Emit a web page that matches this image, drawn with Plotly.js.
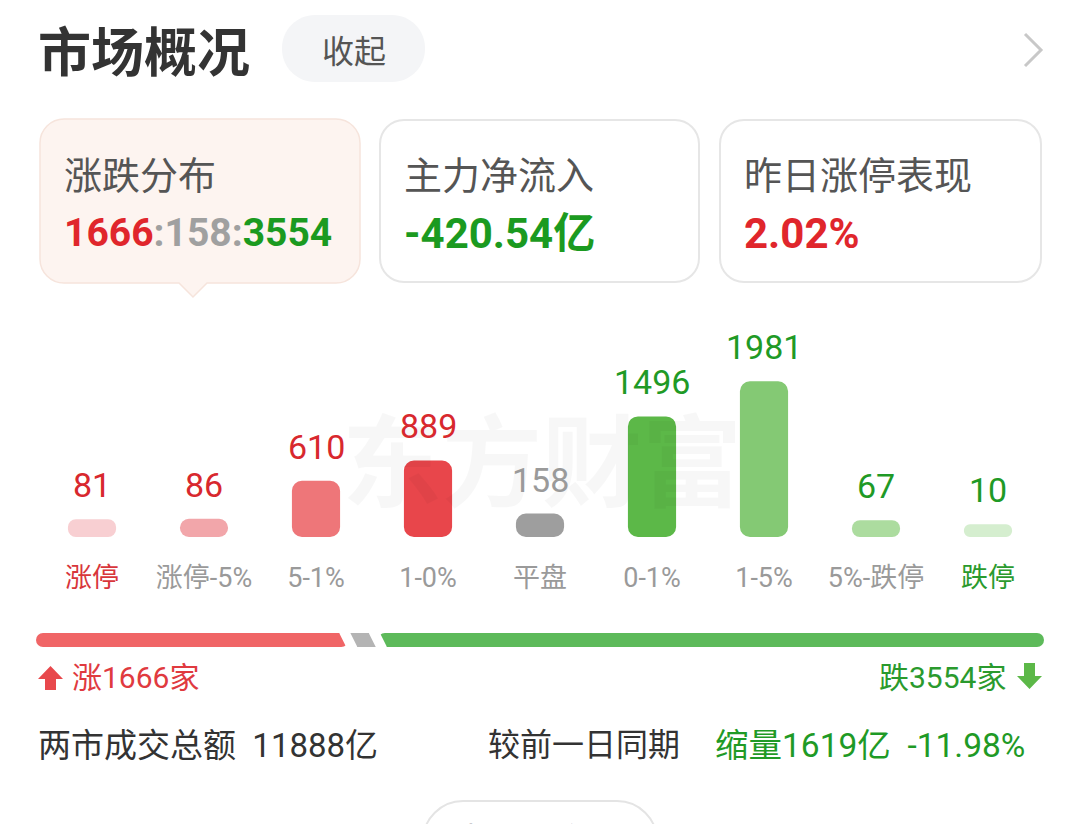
<!DOCTYPE html>
<html>
<head>
<meta charset="utf-8">
<script src="https://cdn.plot.ly/plotly-3.0.1.min.js"></script>
<style>
  html, body { margin: 0; padding: 0; background: #ffffff; }
  #chart { width: 1080px; height: 824px; }
</style>
</head>
<body>
<div id="chart"></div>
<script>
// ---------------- data ----------------
const categories = ['涨停', '涨停-5%', '5-1%', '1-0%', '平盘', '0-1%', '1-5%', '5%-跌停', '跌停'];
const counts = [81, 86, 610, 889, 158, 1496, 1981, 67, 10];
const barColors = ['#f8cfd2', '#f2a6aa', '#ee7679', '#e8464b', '#9e9e9e', '#5cb848', '#84c974', '#acdc9f', '#d5eecf'];
const valueColors = ['#d8282e', '#d8282e', '#d8282e', '#d8282e', '#9a9a9a', '#1f9a26', '#1f9a26', '#1f9a26', '#1f9a26'];
const tickColors = ['#d8363b', '#9a9a9a', '#9a9a9a', '#9a9a9a', '#9a9a9a', '#9a9a9a', '#9a9a9a', '#9a9a9a', '#2a9a2d'];
const upIdx = [0, 1, 2, 3];
const flatIdx = [4];
const downIdx = [5, 6, 7, 8];

const mainNetInflow = '-420.54';    // 亿
const limitUpPerf = '2.02';         // %
const turnover = 11888;             // 亿
const turnoverChange = 1619;        // 亿 (缩量)
const turnoverChangePct = '-11.98'; // %

// derived counts
const sumOf = idx => idx.reduce((s, i) => s + counts[i], 0);
const upCount = sumOf(upIdx);
const flatCount = sumOf(flatIdx);
const downCount = sumOf(downIdx);
const totalCount = upCount + flatCount + downCount;

// ---------------- layout helpers (pixel -> paper) ----------------
const W = 1080, H = 824;
const X = px => px / W;
const Y = py => 1 - py / H;
const K = 0.5523;
function rr(x0, y0, x1, y1, r) {
  const c = r * K;
  return 'M' + X(x0 + r) + ',' + Y(y0) +
    ' L' + X(x1 - r) + ',' + Y(y0) +
    ' C' + X(x1 - r + c) + ',' + Y(y0) + ' ' + X(x1) + ',' + Y(y0 + r - c) + ' ' + X(x1) + ',' + Y(y0 + r) +
    ' L' + X(x1) + ',' + Y(y1 - r) +
    ' C' + X(x1) + ',' + Y(y1 - r + c) + ' ' + X(x1 - r + c) + ',' + Y(y1) + ' ' + X(x1 - r) + ',' + Y(y1) +
    ' L' + X(x0 + r) + ',' + Y(y1) +
    ' C' + X(x0 + r - c) + ',' + Y(y1) + ' ' + X(x0) + ',' + Y(y1 - r + c) + ' ' + X(x0) + ',' + Y(y1 - r) +
    ' L' + X(x0) + ',' + Y(y0 + r) +
    ' C' + X(x0) + ',' + Y(y0 + r - c) + ' ' + X(x0 + r - c) + ',' + Y(y0) + ' ' + X(x0 + r) + ',' + Y(y0) + ' Z';
}
function card1Path(x0, y0, x1, y1, r, tipX, tipH, half) {
  const c = r * K;
  return 'M' + X(x0 + r) + ',' + Y(y0) +
    ' L' + X(x1 - r) + ',' + Y(y0) +
    ' C' + X(x1 - r + c) + ',' + Y(y0) + ' ' + X(x1) + ',' + Y(y0 + r - c) + ' ' + X(x1) + ',' + Y(y0 + r) +
    ' L' + X(x1) + ',' + Y(y1 - r) +
    ' C' + X(x1) + ',' + Y(y1 - r + c) + ' ' + X(x1 - r + c) + ',' + Y(y1) + ' ' + X(x1 - r) + ',' + Y(y1) +
    ' L' + X(tipX + half) + ',' + Y(y1) +
    ' L' + X(tipX) + ',' + Y(y1 + tipH) +
    ' L' + X(tipX - half) + ',' + Y(y1) +
    ' L' + X(x0 + r) + ',' + Y(y1) +
    ' C' + X(x0 + r - c) + ',' + Y(y1) + ' ' + X(x0) + ',' + Y(y1 - r + c) + ' ' + X(x0) + ',' + Y(y1 - r) +
    ' L' + X(x0) + ',' + Y(y0 + r) +
    ' C' + X(x0) + ',' + Y(y0 + r - c) + ' ' + X(x0 + r - c) + ',' + Y(y0) + ' ' + X(x0 + r) + ',' + Y(y0) + ' Z';
}
function poly(pts) {
  return 'M' + pts.map(p => X(p[0]) + ',' + Y(p[1])).join(' L') + ' Z';
}

const CJK = '"Noto Sans CJK SC", "Noto Sans", sans-serif';
const NUM = 'Roboto, "Noto Sans CJK SC", sans-serif';

const RED = '#e0262c', GREEN = '#1b9a20', GRAY = '#a0a0a0';

// ---------------- geometry constants ----------------
const plotLeft = 36, plotRight = 1044;
const baseY = 537, topY = 329;
const baseOffset = -165;     // minimum visible bar stub (axis units below zero)
const yTop = 2700;
const barY0 = 633, barY1 = 647;

// ---------------- traces ----------------
const traces = [];
traces.push({
  type: 'bar', x: categories, y: counts.map(v => v - baseOffset), base: baseOffset,
  xaxis: 'x', yaxis: 'y', width: 0.43,
  marker: { color: barColors, cornerradius: 10 },
  hoverinfo: 'skip', showlegend: false
});
// progress bar (stacked manually with explicit bases)
traces.push({
  type: 'bar', orientation: 'h', y: [0], x: [-upCount], base: [upCount],
  xaxis: 'x2', yaxis: 'y2', width: 1,
  marker: { color: '#f06566', cornerradius: 7 }, hoverinfo: 'skip', showlegend: false
});
traces.push({
  type: 'bar', orientation: 'h', y: [0], x: [flatCount], base: [upCount],
  xaxis: 'x2', yaxis: 'y2', width: 1,
  marker: { color: '#b4b4b4' }, hoverinfo: 'skip', showlegend: false
});
traces.push({
  type: 'bar', orientation: 'h', y: [0], x: [downCount], base: [upCount + flatCount],
  xaxis: 'x2', yaxis: 'y2', width: 1,
  marker: { color: '#5dba5a', cornerradius: 7 }, hoverinfo: 'skip', showlegend: false
});

// ---------------- shapes ----------------
const shapes = [];
shapes.push({ type: 'path', xref: 'paper', yref: 'paper', path: rr(282, 15, 425, 82, 33), fillcolor: '#f4f5f7', line: { width: 0 }, layer: 'below' });
shapes.push({ type: 'path', xref: 'paper', yref: 'paper',
  path: 'M' + X(1025) + ',' + Y(34) + ' L' + X(1041) + ',' + Y(50) + ' L' + X(1025) + ',' + Y(66),
  line: { color: '#c8c8c8', width: 3 } });
shapes.push({ type: 'path', xref: 'paper', yref: 'paper', path: card1Path(40, 119, 360, 283, 24, 193, 14, 14), fillcolor: '#fdf4f0', line: { color: '#f6e4dc', width: 1.5 }, layer: 'below' });
shapes.push({ type: 'path', xref: 'paper', yref: 'paper', path: rr(380, 120, 699, 282, 24), fillcolor: '#ffffff', line: { color: '#e6e6e6', width: 2 }, layer: 'below' });
shapes.push({ type: 'path', xref: 'paper', yref: 'paper', path: rr(720, 120, 1041, 282, 24), fillcolor: '#ffffff', line: { color: '#e6e6e6', width: 2 }, layer: 'below' });
const unitPx = (plotRight - plotLeft) / totalCount;
const slant = 4.5 / unitPx;
[upCount, upCount + flatCount].forEach(b => {
  shapes.push({ type: 'line', xref: 'x2', yref: 'paper', x0: b - slant, x1: b + slant, y0: Y(631), y1: Y(649), line: { color: '#ffffff', width: 10 } });
});
shapes.push({ type: 'path', xref: 'paper', yref: 'paper', path: poly([[50.5, 666], [38, 679], [45, 679], [45, 690], [56, 690], [56, 679], [63, 679]]), fillcolor: '#e8484c', line: { width: 0 } });
shapes.push({ type: 'path', xref: 'paper', yref: 'paper', path: poly([[1024, 663], [1035, 663], [1035, 676], [1042, 676], [1029.5, 689], [1017, 676], [1024, 676]]), fillcolor: '#5cb848', line: { width: 0 } });
shapes.push({ type: 'path', xref: 'paper', yref: 'paper', path: rr(423, 801, 657, 890, 40), fillcolor: '#ffffff', line: { color: '#e4e4e4', width: 2 }, layer: 'below' });

// ---------------- annotations ----------------
const ann = [];
function txt(x, y, text, size, color, anchor, family, extra) {
  ann.push(Object.assign({ xref: 'paper', yref: 'paper', x: X(x), y: Y(y), text: text, showarrow: false,
    xanchor: anchor || 'left', yanchor: 'middle', font: { size: size, color: color, family: family || CJK } }, extra || {}));
}
txt(542, 455, '<b>东方财富</b>', 100, 'rgba(0,0,0,0.03)', 'center');
txt(36, 49, '<b>市场概况</b>', 53, '#333333');
txt(354, 49, '收起', 32, '#555555', 'center');
txt(62, 173, '涨跌分布', 38, '#555555');
txt(402, 173, '主力净流入', 38, '#555555');
txt(742, 173, '昨日涨停表现', 38, '#555555');
txt(62, 233, '<b><span style="color:' + RED + '">' + upCount + '</span><span style="color:' + GRAY + '">:' + flatCount + ':</span><span style="color:' + GREEN + '">' + downCount + '</span></b>', 39, RED, 'left', NUM);
txt(402, 233, '<b>' + mainNetInflow + '亿</b>', 42, GREEN, 'left', NUM);
txt(742, 233, '<b>' + limitUpPerf + '%</b>', 42, RED, 'left', NUM);
categories.forEach((c, i) => {
  ann.push({ xref: 'x', yref: 'y', x: c, y: counts[i], text: String(counts[i]), showarrow: false,
    xanchor: 'center', yanchor: 'bottom', yshift: 12, font: { size: 34, color: valueColors[i], family: NUM } });
});
txt(70, 677, '涨' + upCount + '家', 30, '#e03a3f', 'left', NUM);
txt(1008, 677, '跌' + downCount + '家', 30, '#2a9a2d', 'right', NUM);
txt(36, 745, '两市成交总额&nbsp;&nbsp;' + turnover + '亿', 33, '#333333', 'left', NUM);
txt(486, 745, '较前一日同期', 32, '#333333', 'left', NUM);
txt(713, 745, '缩量' + turnoverChange + '亿&nbsp;&nbsp;' + turnoverChangePct + '%', 33.5, '#1f9a26', 'left', NUM);
txt(522, 838, '查看更多', 34, '#333333', 'center');

// ---------------- layout ----------------
const layout = {
  width: W, height: H,
  margin: { l: 0, r: 0, t: 0, b: 0, pad: 0 },
  paper_bgcolor: '#ffffff', plot_bgcolor: 'rgba(0,0,0,0)',
  font: { family: CJK, color: '#333333' },
  barmode: 'overlay',
  showlegend: false,
  xaxis: {
    domain: [X(plotLeft), X(plotRight)], type: 'category', range: [-0.5, categories.length - 0.5],
    tickvals: categories,
    ticktext: categories.map((c, i) => '<span style="color:' + tickColors[i] + '">' + c + '</span>'),
    tickfont: { size: 27, family: NUM, color: '#9a9a9a' },
    ticks: 'outside', ticklen: 17, tickcolor: 'rgba(0,0,0,0)',
    showgrid: false, zeroline: false, showline: false, fixedrange: true, anchor: 'y'
  },
  yaxis: {
    domain: [Y(baseY), Y(topY)], range: [baseOffset, yTop],
    visible: false, showgrid: false, zeroline: false, fixedrange: true, anchor: 'x'
  },
  xaxis2: {
    domain: [X(plotLeft), X(plotRight)], range: [0, totalCount],
    visible: false, showgrid: false, zeroline: false, fixedrange: true, anchor: 'y2'
  },
  yaxis2: {
    domain: [Y(barY1), Y(barY0)], range: [-0.5, 0.5],
    visible: false, showgrid: false, zeroline: false, fixedrange: true, anchor: 'x2'
  },
  shapes: shapes,
  annotations: ann
};

Plotly.newPlot('chart', traces, layout, { staticPlot: true, displayModeBar: false });
</script>
</body>
</html>
